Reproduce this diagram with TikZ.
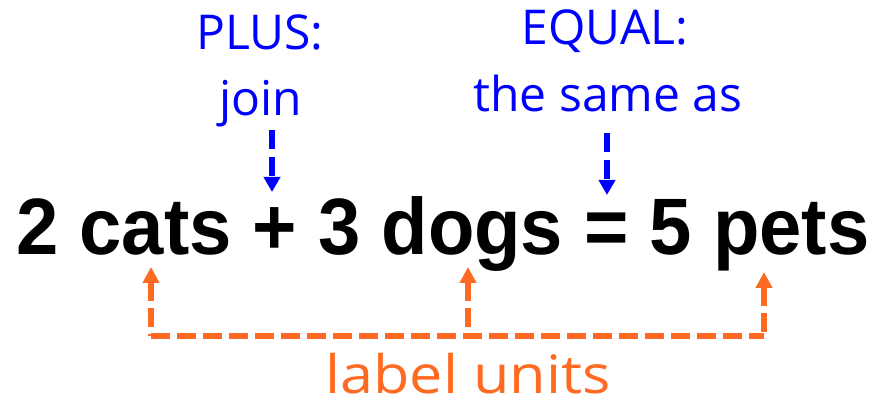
\documentclass[tikz,border=0pt]{standalone}
\usepackage{fontspec}
\setmainfont{Liberation Sans}
\newfontfamily\handfont{Open Sans}
\usetikzlibrary{arrows.meta}
\definecolor{plusblue}{RGB}{0,0,255}
\definecolor{unitorange}{RGB}{255,106,34}
\begin{document}
\begin{tikzpicture}[x=1pt,y=1pt,
  hand/.style={font=\handfont\fontsize{48}{56}\selectfont, inner sep=0pt, anchor=base},
  bighand/.style={font=\handfont\fontsize{53}{60}\selectfont, inner sep=0pt, anchor=base},
  bighead/.style={font=\bfseries\fontsize{80}{90}\selectfont, inner sep=0pt, anchor=base west},
  bluedash/.style={draw=plusblue, line width=6pt, dash pattern=on 19pt off 8pt, line cap=butt,
    -{Triangle[width=16pt,length=15pt]}},
  orangedash/.style={draw=unitorange, line width=6pt, dash pattern=on 19pt off 7pt, line cap=butt, line join=round},
  orangeup/.style={orangedash, {Triangle[width=16pt,length=16pt]}-}
]
\useasboundingbox (0,0) rectangle (876,402);

% equation
\node[bighead] (eq) at (16,147) {\scalebox{0.95}[1]{2 cats + 3 dogs = 5 pets}};

% blue labels
\node[hand, text=plusblue] (plus) at (260,352) {PLUS:};
\node[hand, text=plusblue] (join) at (261,286) {join};
\node[hand, text=plusblue] (equal) at (605,357) {EQUAL:};
\node[hand, text=plusblue] (same) at (608,290) {the same as};

% orange label
\node[bighand, text=unitorange] (units) at (468,9) {\scalebox{1.12}[1]{label units}};

% coordinates
\coordinate (joinfoot) at (272,272);
\coordinate (plustip) at (272,210);
\coordinate (samefoot) at (607,269);
\coordinate (equaltip) at (607,207);

\coordinate (catstip) at (151,135);
\coordinate (dogstip) at (468,135);
\coordinate (petstip) at (764,130);
\coordinate (cornerL) at (151,66);
\coordinate (cornerM) at (468,66);
\coordinate (cornerR) at (764,66);

% blue arrows
\draw[bluedash] (joinfoot) -- (plustip);
\draw[bluedash] (samefoot) -- (equaltip);

% orange bracket
\draw[orangedash] (cornerL) -- (cornerR);
\draw[orangeup] (catstip) -- (cornerL);
\draw[orangeup] (dogstip) -- (cornerM);
\draw[orangeup] (petstip) -- (cornerR);
\end{tikzpicture}
\end{document}
